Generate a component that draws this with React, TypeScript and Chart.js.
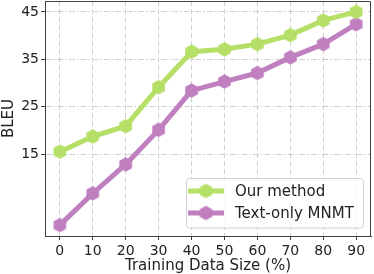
import { useEffect, useRef } from 'react';
import { Chart, registerables } from 'chart.js';

Chart.register(...registerables);

const dataSizes = [0, 10, 20, 30, 40, 50, 60, 70, 80, 90];
const ourMethod = [15.5, 18.7, 20.9, 29.1, 36.6, 37.1, 38.2, 40.1, 43.2, 45.0];
const textOnlyMNMT = [0.0, 6.7, 12.8, 20.1, 28.4, 30.3, 32.1, 35.4, 38.2, 42.4];
const yTickValues = [15, 25, 35, 45];
const xTickValues = [0, 10, 20, 30, 40, 50, 60, 70, 80, 90];
const seriesLabels = ['Our method', 'Text-only MNMT'];
const seriesColors = ['#b5df66', '#c080c0'];

const FONT = "'DejaVu Sans', sans-serif";

function hexagon(color: string, r: number): HTMLCanvasElement {
  const c = document.createElement('canvas');
  const s = Math.ceil(r * 2 + 2);
  c.width = s;
  c.height = s;
  const ctx = c.getContext('2d')!;
  ctx.fillStyle = color;
  ctx.beginPath();
  for (let i = 0; i < 6; i++) {
    const a = -Math.PI / 2 + (i * Math.PI) / 3;
    const x = s / 2 + r * Math.cos(a);
    const y = s / 2 + r * Math.sin(a);
    if (i === 0) ctx.moveTo(x, y);
    else ctx.lineTo(x, y);
  }
  ctx.closePath();
  ctx.fill();
  return c;
}

function noPad(s: any) {
  s.paddingTop = 0;
  s.paddingBottom = 0;
  s.paddingLeft = 0;
  s.paddingRight = 0;
}

export default function App() {
  const ref = useRef<HTMLCanvasElement | null>(null);

  useEffect(() => {
    document.body.style.margin = '0';
    const canvas = ref.current!;
    const markers = seriesColors.map((c) => hexagon(c, 7.3));

    const framePlugin = {
      id: 'frameAndLegend',
      afterDraw(chart: any) {
        const { ctx, chartArea } = chart;
        ctx.save();
        ctx.strokeStyle = '#404040';
        ctx.lineWidth = 1;
        ctx.beginPath();
        ctx.moveTo(chartArea.left, chartArea.top + 0.5);
        ctx.lineTo(chartArea.right - 0.5, chartArea.top + 0.5);
        ctx.lineTo(chartArea.right - 0.5, chartArea.bottom);
        ctx.stroke();

        // legend
        const lx = 186.5, ly = 178.5, lw = 177, lh = 49.5;
        ctx.beginPath();
        (ctx as any).roundRect(lx, ly, lw, lh, 3);
        ctx.fillStyle = 'rgba(255,255,255,0.8)';
        ctx.fill();
        ctx.strokeStyle = '#d0d0d0';
        ctx.stroke();
        seriesLabels.forEach((label, i) => {
          const y = 191 + i * 22;
          ctx.strokeStyle = seriesColors[i];
          ctx.lineWidth = 5;
          ctx.beginPath();
          ctx.moveTo(188, y);
          ctx.lineTo(224, y);
          ctx.stroke();
          const m = markers[i];
          ctx.drawImage(m, 206 - m.width / 2, y - m.height / 2);
          ctx.fillStyle = '#222';
          ctx.font = `15px ${FONT}`;
          ctx.textBaseline = 'middle';
          ctx.textAlign = 'left';
          ctx.fillText(label, 235, y + 1);
        });
        ctx.restore();
      },
    };

    const chart = new Chart(canvas, {
      type: 'line',
      data: {
        datasets: [
          {
            label: seriesLabels[0],
            data: dataSizes.map((x, i) => ({ x, y: ourMethod[i] })),
            borderColor: seriesColors[0],
            backgroundColor: seriesColors[0],
            borderWidth: 5,
            borderJoinStyle: 'round',
            pointStyle: markers[0],
            tension: 0,
          },
          {
            label: seriesLabels[1],
            data: dataSizes.map((x, i) => ({ x, y: textOnlyMNMT[i] })),
            borderColor: seriesColors[1],
            backgroundColor: seriesColors[1],
            borderWidth: 5,
            borderJoinStyle: 'round',
            pointStyle: markers[1],
            tension: 0,
          },
        ],
      },
      options: {
        responsive: false,
        animation: false,
        layout: { autoPadding: false, padding: { top: 1, right: 3, left: 0, bottom: 0 } },
        plugins: { legend: { display: false }, tooltip: { enabled: false } },
        scales: {
          x: {
            type: 'linear',
            min: -4.5,
            max: 94.5,
            afterBuildTicks: (s: any) => {
              s.ticks = xTickValues.map((v) => ({ value: v }));
            },
            afterFit: (s: any) => {
              s.height = 38;
              noPad(s);
            },
            grid: { color: '#d0d0d0', lineWidth: 1, tickColor: '#404040', tickLength: 4, tickWidth: 1 },
            border: { display: true, color: '#404040', width: 1, dash: [5, 3] },
            ticks: { font: { family: FONT, size: 14 }, color: '#222', padding: 3, maxRotation: 0, autoSkip: false },
            title: { display: true, text: 'Training Data Size (%)', font: { family: FONT, size: 15 }, color: '#222', padding: { top: 0, bottom: -1 } },
          },
          y: {
            type: 'linear',
            min: -2.3,
            max: 47.3,
            afterBuildTicks: (s: any) => {
              s.ticks = yTickValues.map((v) => ({ value: v }));
            },
            afterFit: (s: any) => {
              s.width = 45;
              noPad(s);
            },
            grid: { color: '#d0d0d0', lineWidth: 1, tickColor: '#404040', tickLength: 4, tickWidth: 1 },
            border: { display: true, color: '#404040', width: 1, dash: [6, 2, 1.5, 2] },
            ticks: { font: { family: FONT, size: 14 }, color: '#222', padding: 2 },
            title: { display: true, text: 'BLEU', font: { family: FONT, size: 15 }, color: '#222', padding: 0 },
          },
        },
      },
      plugins: [framePlugin],
    } as any);

    return () => chart.destroy();
  }, []);

  return <canvas ref={ref} width={374} height={274} style={{ display: 'block' }} />;
}
